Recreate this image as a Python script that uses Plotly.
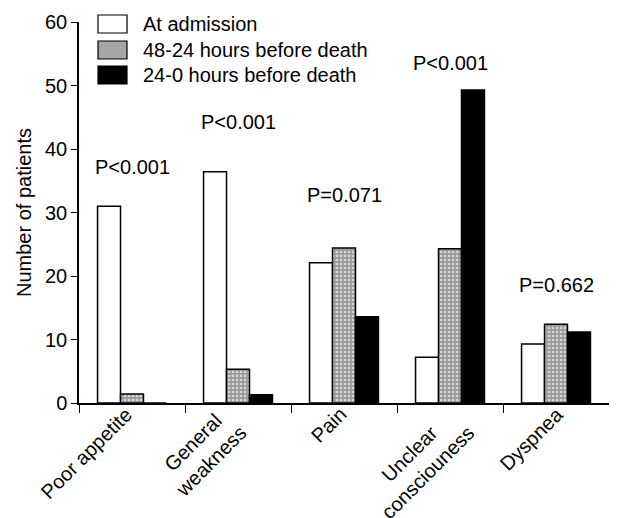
import plotly.graph_objects as go

categories = ["Poor appetite", "General<br>weakness", "Pain", "Unclear<br>consciouness", "Dyspnea"]
series_names = ["At admission", "48-24 hours before death", "24-0 hours before death"]
at_admission = [31.0, 36.4, 22.1, 7.2, 9.3]
h48_24 = [1.4, 5.3, 24.4, 24.3, 12.4]
h24_0 = [0.0, 1.3, 13.6, 49.3, 11.2]
p_values = ["P<0.001", "P<0.001", "P=0.071", "P<0.001", "P=0.662"]

FONT = "Arial"
FS = 20
OFF = 8  # default page margin of the HTML body
gray_pattern = dict(shape=".", bgcolor="#9a9a9a", fgcolor="#d8d8d8",
                    size=4, solidity=0.35, fillmode="replace")
fills = ["white", "#a5a5a5", "black"]

fig = go.Figure()
fig.add_trace(go.Bar(x=categories, y=at_admission, name=series_names[0],
                     marker=dict(color=fills[0], line=dict(color="black", width=1.5))))
fig.add_trace(go.Bar(x=categories, y=h48_24, name=series_names[1],
                     marker=dict(color=fills[1], line=dict(color="black", width=1.5),
                                 pattern=gray_pattern)))
fig.add_trace(go.Bar(x=categories, y=h24_0, name=series_names[2],
                     marker=dict(color=fills[2], line=dict(color="black", width=1.5))))

label_y = [37.2, 44.2, 32.8, 53.5, 18.6]
for c, t, yy in zip(categories, p_values, label_y):
    fig.add_annotation(x=c, y=yy, text=t, showarrow=False,
                       font=dict(size=FS, color="black", family=FONT))

# plot area in page pixels
L, T, W, H = 79, 22, 530, 381
def px(x): return (x - L) / W
def py(y): return (T + H - y) / H

# rotated category labels (centre-aligned lines, like the original)
label_shift = [6, 14, 8, 30, 13]
for c, s in zip(categories, label_shift):
    fig.add_annotation(x=c, xref="x", y=py(402), yref="paper", text=c,
                       textangle=-45, align="center", xanchor="right", yanchor="top",
                       xshift=s, showarrow=False, borderpad=0,
                       font=dict(size=FS, color="black", family=FONT))

row_centers = [24, 50, 75]
for name, fc, cy in zip(series_names, fills, row_centers):
    fig.add_shape(type="rect", xref="paper", yref="paper",
                  x0=px(98), x1=px(127), y0=py(cy + 9), y1=py(cy - 9),
                  fillcolor=fc, line=dict(color="black", width=1.2))
    fig.add_annotation(xref="paper", yref="paper", x=px(141), y=py(cy),
                       xanchor="left", yanchor="middle", text=name, showarrow=False,
                       font=dict(size=FS, color="black", family=FONT))

FW, FH = 617 - OFF, 518 - OFF
fig.update_layout(
    width=FW, height=FH,
    margin=dict(l=L - OFF, r=FW - (L - OFF) - W, t=T - OFF, b=FH - (T - OFF) - H),
    paper_bgcolor="white", plot_bgcolor="white",
    barmode="group", bargap=0.35, bargroupgap=0,
    font=dict(family=FONT, size=FS, color="black"),
    showlegend=False,
)
fig.update_xaxes(showline=True, linecolor="black", linewidth=1.5, automargin=False,
                 range=[-0.5, len(categories) - 0.5], autorange=False,
                 ticks="outside", ticklen=8, tickcolor="black", tickson="boundaries",
                 showticklabels=False, showgrid=False)
fig.update_yaxes(range=[0, 60], dtick=10, showline=True, linecolor="black", linewidth=1.5,
                 automargin=False,
                 ticks="outside", ticklen=6, tickcolor="black", showgrid=False, zeroline=False,
                 title=dict(text="Number of patients", font=dict(size=FS), standoff=8),
                 tickfont=dict(size=FS))

fig.write_html("out.html")
